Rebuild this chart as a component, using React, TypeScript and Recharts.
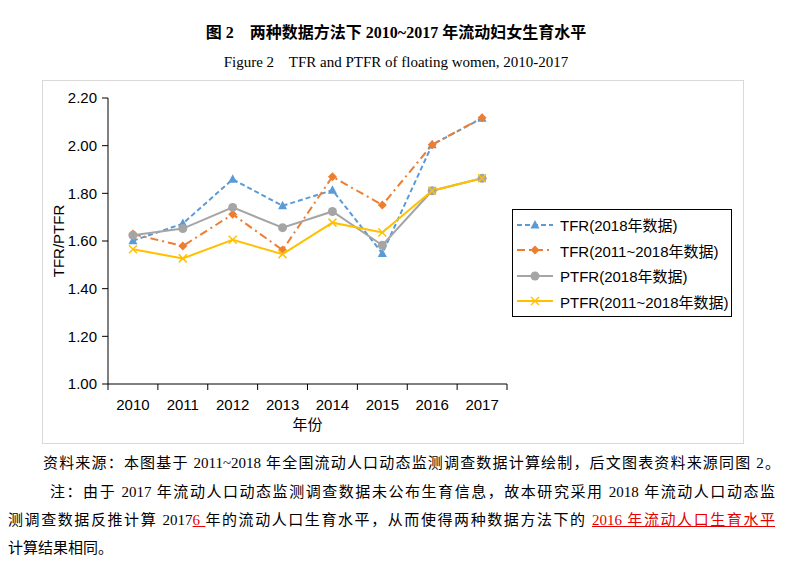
import React from 'react';
import { LineChart, Line, XAxis, YAxis, Legend } from 'recharts';

const years = ['2010', '2011', '2012', '2013', '2014', '2015', '2016', '2017'];
const tfr2018 = [1.601, 1.673, 1.859, 1.748, 1.813, 1.548, 2.004, 2.115];
const tfr2011to2018 = [1.629, 1.579, 1.712, 1.562, 1.870, 1.751, 2.004, 2.117];
const ptfr2018 = [1.624, 1.652, 1.741, 1.656, 1.724, 1.582, 1.811, 1.863];
const ptfr2011to2018 = [1.565, 1.527, 1.605, 1.545, 1.677, 1.636, 1.811, 1.863];
const yTicks = [1.0, 1.2, 1.4, 1.6, 1.8, 2.0, 2.2];

const data = years.map((y, i) => ({
  year: y,
  tfrA: tfr2018[i],
  tfrB: tfr2011to2018[i],
  ptfrA: ptfr2018[i],
  ptfrB: ptfr2011to2018[i],
}));

const SANS = '"Liberation Sans", "Noto Sans CJK SC", sans-serif';
const SERIF = '"Liberation Serif", "Noto Sans CJK SC", serif';

const BLUE = '#5B9BD5';
const ORANGE = '#ED7D31';
const GRAY = '#A5A5A5';
const YELLOW = '#FFC000';

type Shape = 'triangle' | 'diamond' | 'circle' | 'cross';

function Marker({ cx, cy, shape, color }: { cx: number; cy: number; shape: Shape; color: string }) {
  if (cx == null || cy == null) return null;
  if (shape === 'triangle')
    return <polygon points={`${cx},${cy - 5} ${cx - 4.5},${cy + 3.5} ${cx + 4.5},${cy + 3.5}`} fill={color} />;
  if (shape === 'diamond')
    return <polygon points={`${cx},${cy - 4.5} ${cx + 4.5},${cy} ${cx},${cy + 4.5} ${cx - 4.5},${cy}`} fill={color} />;
  if (shape === 'circle') return <circle cx={cx} cy={cy} r={4.5} fill={color} />;
  return (
    <g stroke={color} strokeWidth={1.5}>
      <line x1={cx - 4} y1={cy - 4} x2={cx + 4} y2={cy + 4} />
      <line x1={cx - 4} y1={cy + 4} x2={cx + 4} y2={cy - 4} />
    </g>
  );
}

const series = [
  { key: 'tfrA', name: 'TFR(2018年数据)', color: BLUE, dash: '5 3', shape: 'triangle' as Shape },
  { key: 'tfrB', name: 'TFR(2011~2018年数据)', color: ORANGE, dash: '8 4 2 4', shape: 'diamond' as Shape },
  { key: 'ptfrA', name: 'PTFR(2018年数据)', color: GRAY, dash: undefined, shape: 'circle' as Shape },
  { key: 'ptfrB', name: 'PTFR(2011~2018年数据)', color: YELLOW, dash: undefined, shape: 'cross' as Shape },
];

function LegendBox() {
  return (
    <div style={{ border: '1px solid #000', background: '#fff', width: 220, height: 108, boxSizing: 'border-box', padding: '2px 0 0 3px' }}>
      {series.map((s) => (
        <div key={s.key} style={{ display: 'flex', alignItems: 'center', height: 25.5, fontFamily: SANS, fontSize: 15, color: '#000' }}>
          <svg width={38} height={12} style={{ marginRight: 6 }}>
            <line x1={1} y1={6} x2={37} y2={6} stroke={s.color} strokeWidth={2} strokeDasharray={s.dash} />
            <Marker cx={19} cy={6} shape={s.shape} color={s.color} />
          </svg>
          <span>{s.name}</span>
        </div>
      ))}
    </div>
  );
}

// category label at the band centre, tick mark on the band edges (Excel style)
function YearTick(props: any) {
  const { x, y, payload, index, width, visibleTicksCount } = props;
  const half = width / visibleTicksCount / 2;
  return (
    <g>
      <line x1={x - half} y1={y} x2={x - half} y2={y + 6} stroke="#000" />
      {index === visibleTicksCount - 1 && <line x1={x + half} y1={y} x2={x + half} y2={y + 6} stroke="#000" />}
      <text x={x} y={y + 26} textAnchor="middle" fontSize={15} fill="#000" fontFamily={SANS}>
        {payload.value}
      </text>
    </g>
  );
}

const red = { color: '#E60000', textDecoration: 'underline', textDecorationColor: '#E60000' };
const lineStyle: React.CSSProperties = {
  position: 'absolute',
  fontFamily: SERIF,
  fontSize: 15,
  lineHeight: '20px',
  color: '#000',
  whiteSpace: 'nowrap',
  textAlign: 'justify',
  textAlignLast: 'justify',
};

export default function App() {
  return (
    <div style={{ position: 'absolute', left: 0, top: 0, width: 792, height: 564, background: '#fff', overflow: 'hidden' }}>
      <div style={{ position: 'absolute', left: 0, top: 22, width: 792, textAlign: 'center', fontFamily: SERIF, fontWeight: 'bold', fontSize: 16, lineHeight: '22px', whiteSpace: 'pre' }}>
        {'图 2　两种数据方法下 2010~2017 年流动妇女生育水平'}
      </div>
      <div style={{ position: 'absolute', left: 0, top: 52, width: 792, textAlign: 'center', fontFamily: SERIF, fontSize: 15, lineHeight: '20px', whiteSpace: 'pre' }}>
        {'Figure 2    TFR and PTFR of floating women, 2010-2017'}
      </div>

      <div style={{ position: 'absolute', left: 42, top: 80, width: 702, height: 364, border: '1px solid #d9d9d9', boxSizing: 'border-box' }}>
        <LineChart width={700} height={362} data={data} margin={{ top: 17, right: 236, left: 0, bottom: 9 }}>
          <XAxis
            dataKey="year"
            scale="band"
            height={50}
            axisLine={{ stroke: '#000' }}
            tickLine={false}
            tickSize={0}
            tickMargin={0}
            interval={0}
            tick={<YearTick />}
            label={{ value: '年份', position: 'insideBottom', offset: 4, fontSize: 15, fill: '#000', fontFamily: SANS }}
          />
          <YAxis
            width={65}
            domain={[1, 2.2]}
            ticks={yTicks}
            interval={0}
            tickFormatter={(v: number) => v.toFixed(2)}
            tickSize={6}
            tickMargin={5}
            axisLine={{ stroke: '#000' }}
            tickLine={{ stroke: '#000' }}
            tick={{ fontSize: 15, fill: '#000', fontFamily: SANS }}
            label={{ value: 'TFR/PTFR', angle: -90, position: 'center', dx: -17, fontSize: 15, fill: '#000', fontFamily: SANS }}
          />
          <Legend
            layout="horizontal"
            verticalAlign="middle"
            align="center"
            wrapperStyle={{ position: 'absolute', left: 469, top: 128, width: 220, height: 108 }}
            content={() => <LegendBox />}
          />
          {series.map((s) => (
            <Line
              key={s.key}
              type="linear"
              dataKey={s.key}
              name={s.name}
              stroke={s.color}
              strokeWidth={2}
              strokeDasharray={s.dash}
              dot={(p: any) => <Marker key={`${s.key}-${p.index}`} cx={p.cx} cy={p.cy} shape={s.shape} color={s.color} />}
              activeDot={false}
              isAnimationActive={false}
            />
          ))}
        </LineChart>
      </div>

      <div style={{ ...lineStyle, left: 43, top: 453, width: 737 }}>
        资料来源：本图基于 2011~2018 年全国流动人口动态监测调查数据计算绘制，后文图表资料来源同图 2。
      </div>
      <div style={{ ...lineStyle, left: 50, top: 482, width: 725 }}>
        注：由于 2017 年流动人口动态监测调查数据未公布生育信息，故本研究采用 2018 年流动人口动态监
      </div>
      <div style={{ ...lineStyle, left: 8, top: 510, width: 767 }}>
        测调查数据反推计算 2017<span style={red}>6 </span>年的流动人口生育水平，从而使得两种数据方法下的 <span style={red}>2016 年流动人口生育水平</span>
      </div>
      <div style={{ ...lineStyle, left: 8, top: 538, textAlignLast: 'left' }}>计算结果相同。</div>
    </div>
  );
}
